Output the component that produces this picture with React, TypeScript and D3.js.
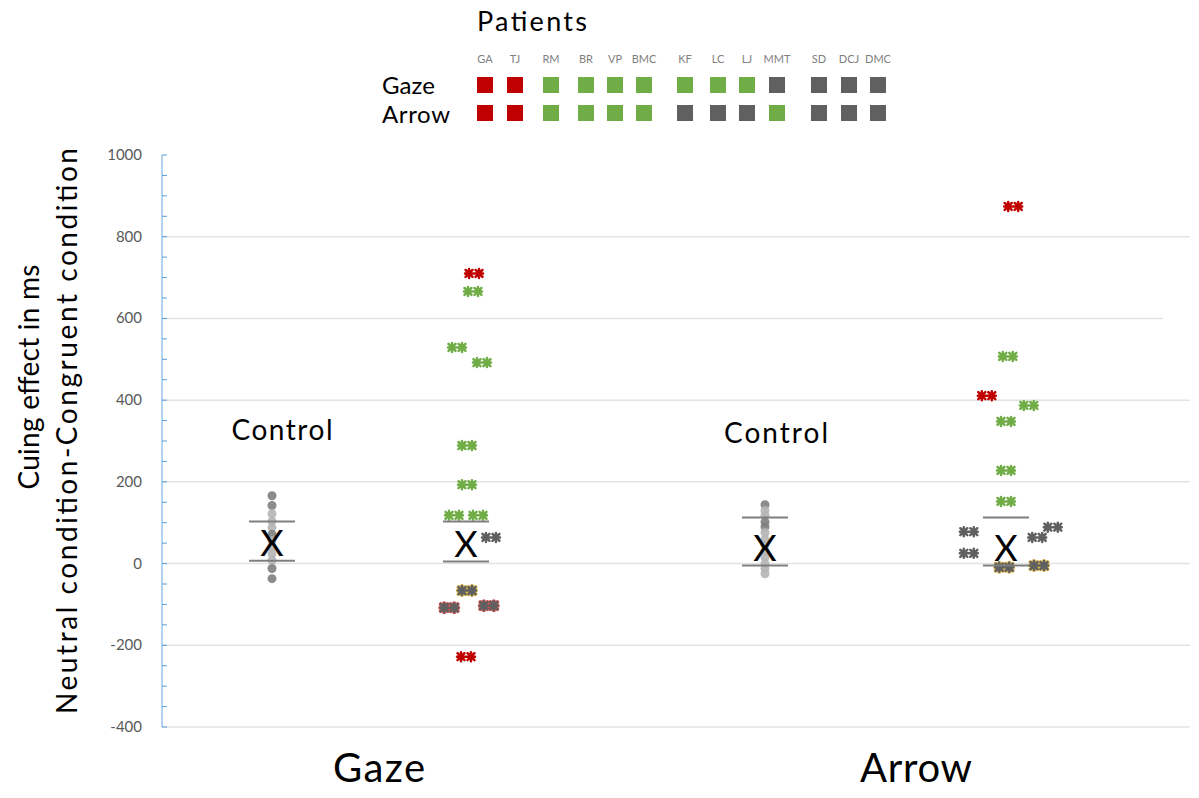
import React from "react";
import * as d3 from "d3";

// Legend: patients and whether each showed a cuing effect per condition
const patients = ["GA", "TJ", "RM", "BR", "VP", "BMC", "KF", "LC", "LJ", "MMT", "SD", "DCJ", "DMC"];
const gazeStatus = ["R", "R", "G", "G", "G", "G", "G", "G", "G", "K", "K", "K", "K"];
const arrowStatus = ["R", "R", "G", "G", "G", "G", "K", "K", "K", "G", "K", "K", "K"];

// Y axis
const yTicks = [1000, 800, 600, 400, 200, 0, -200, -400];

// Groups on the x axis
const groups = ["gazeControl", "gazePatients", "arrowControl", "arrowPatients"];
const conditions = ["Gaze", "Arrow"];

// Controls (ms)
const gazeControlValues = [166, 142, 122, 104, 88, 72, 56, 40, 24, 8, -12, -37];
const gazeControlShade = ["D", "D", "L", "L", "L", "D", "L", "L", "L", "L", "D", "D"];
const arrowControlValues = [144, 130, 118, 102, 90, 76, 60, 45, 30, 15, 0, -12, -25];
const arrowControlShade = ["D", "L", "L", "D", "D", "L", "L", "L", "L", "L", "L", "L", "L"];

// Patients (ms), marker colour and horizontal lane (jitter)
const gazePatientValues = [710, 666, 529, 492, 289, 193, 118, 118, 64, -66, -108, -103, -228];
const gazePatientColor = ["R", "G", "G", "G", "G", "G", "G", "G", "K", "Ky", "Kr", "Kr", "R"];
const gazePatientLane = [0.67, 0.58, -0.75, 1.33, 0.08, 0.08, -1, 1, 2.08, 0.08, -1.4, 1.9, 0];

const arrowPatientValues = [874, 507, 411, 387, 348, 228, 152, 78, 25, 64, 89, -9, -5];
const arrowPatientColor = ["R", "G", "R", "G", "G", "G", "G", "K", "K", "K", "K", "Ky", "Ky"];
const arrowPatientLane = [0.6, 0.15, -1.6, 1.9, 0, 0, 0, -3.1, -3.1, 2.6, 3.9, -0.15, 2.75];

// Mean and +/- SE per group
const groupMeans = [51, 47, 39, 39];
const groupSELow = [7, 5, -5, -5];
const groupSEHigh = [103, 103, 113, 113];

const colorMap: Record<string, string> = { R: "#c00000", G: "#70ad47", K: "#606060" };
const outlineMap: Record<string, string> = { Ky: "#d9b44a", Kr: "#d05050" };

const W = 1199;
const H = 798;
const FONT = "Lato, 'Open Sans', sans-serif";

// two asterisks joined by a bar, like the spreadsheet star marker
const starPath = (() => {
  let p = "M-9,0H9";
  [-5, 5].forEach(c => {
    p += `M${c - 3.5},-3.5L${c + 3.5},3.5M${c - 3.5},3.5L${c + 3.5},-3.5M${c},-4.5V4.5`;
  });
  return p;
})();

const Star: React.FC<{ x: number; y: number; code: string }> = ({ x, y, code }) => {
  const main = colorMap[code[0]];
  const outline = outlineMap[code];
  return (
    <g transform={`translate(${x},${y})`}>
      {outline && <path d={starPath} stroke={outline} strokeWidth={4} strokeLinecap="round" fill="none" />}
      <path d={starPath} stroke={main} strokeWidth={2.5} strokeLinecap="round" fill="none" />
    </g>
  );
};

export default function App() {
  const y = d3.scaleLinear().domain([-400, 1000]).range([727, 155]);
  const xGroup = d3.scaleOrdinal<string, number>().domain(groups).range([272, 466, 765, 1006]);
  const xCond = d3.scaleOrdinal<string, number>().domain(conditions).range([379, 916]);
  const lane = d3.scaleLinear().domain([0, 1]).range([0, 12]);
  const xLegend = d3.scaleOrdinal<string, number>()
    .domain(patients)
    .range([485, 515, 551, 586, 615, 644, 685, 718, 747, 777, 819, 849, 878]);

  const axisX = 162;
  const minorTicks = d3.range(-400, 1001, 50);

  const controlDot = (vals: number[], shade: string[], g: string) =>
    vals.map((v, i) => (
      <circle key={`${g}-${i}`} cx={xGroup(g)} cy={y(v)} r={4.5}
        fill={shade[i] === "D" ? "#7f7f7f" : "#b5b5b5"} opacity={0.9} />
    ));

  return (
    <svg width={W} height={H} style={{ position: "absolute", left: 0, top: 0, background: "#fff" }}>
      {/* Legend */}
      <text x={477} y={31} fontFamily={FONT} fontSize={27} textLength={110} fill="#000">Patients</text>
      <text x={382} y={94} fontFamily={FONT} fontSize={24} textLength={53} fill="#000">Gaze</text>
      <text x={382} y={123} fontFamily={FONT} fontSize={24} textLength={68} fill="#000">Arrow</text>
      {patients.map((p, i) => (
        <g key={p}>
          <text x={xLegend(p)} y={63} textAnchor="middle" fontFamily={FONT} fontSize={11} fill="#808080">{p}</text>
          <rect x={xLegend(p) - 8} y={77} width={16} height={16} fill={colorMap[gazeStatus[i]]} />
          <rect x={xLegend(p) - 8} y={105} width={16} height={16} fill={colorMap[arrowStatus[i]]} />
        </g>
      ))}

      {/* Gridlines */}
      {yTicks.filter(t => t !== 1000).map(t => (
        <line key={t} x1={axisX} x2={t === 600 ? 1163 : 1190} y1={y(t)} y2={y(t)} stroke="#e3e3e3" strokeWidth={1.5} />
      ))}

      {/* Y axis */}
      <line x1={axisX} x2={axisX} y1={y(1000)} y2={y(-400)} stroke="#9dc3e6" strokeWidth={1.5} />
      {minorTicks.map(t => (
        <line key={t} x1={axisX} x2={axisX + 5} y1={y(t)} y2={y(t)} stroke="#5b9bd5" strokeWidth={1} />
      ))}
      {yTicks.map(t => (
        <text key={t} x={142} y={y(t) + 5} textAnchor="end" fontFamily={FONT} fontSize={15} fill="#595959">{t}</text>
      ))}

      {/* Axis title */}
      <text transform={`translate(39,${377}) rotate(-90)`} textAnchor="middle" fontFamily={FONT} fontSize={28}
        textLength={225} fill="#000">
        Cuing effect in ms
      </text>
      <text transform={`translate(77,${431}) rotate(-90)`} textAnchor="middle" fontFamily={FONT} fontSize={28}
        textLength={566} fill="#000">
        Neutral condition-Congruent condition
      </text>

      {/* Controls */}
      {controlDot(gazeControlValues, gazeControlShade, "gazeControl")}
      {controlDot(arrowControlValues, arrowControlShade, "arrowControl")}

      {/* Patients */}
      {gazePatientValues.map((v, i) => (
        <Star key={`gp-${i}`} x={xGroup("gazePatients") + lane(gazePatientLane[i])} y={y(v)} code={gazePatientColor[i]} />
      ))}
      {arrowPatientValues.map((v, i) => (
        <Star key={`ap-${i}`} x={xGroup("arrowPatients") + lane(arrowPatientLane[i])} y={y(v)} code={arrowPatientColor[i]} />
      ))}

      {/* Mean and SE */}
      {groups.map((g, i) => (
        <g key={g}>
          <line x1={xGroup(g) - 23} x2={xGroup(g) + 23} y1={y(groupSEHigh[i])} y2={y(groupSEHigh[i])} stroke="#7f7f7f" strokeWidth={2} />
          <line x1={xGroup(g) - 23} x2={xGroup(g) + 23} y1={y(groupSELow[i])} y2={y(groupSELow[i])} stroke="#7f7f7f" strokeWidth={2} />
          <text x={xGroup(g)} y={y(groupMeans[i]) + 13} textAnchor="middle" fontFamily={FONT} fontSize={36} fill="#000">X</text>
        </g>
      ))}

      {/* Control labels */}
      <text x={282} y={440} textAnchor="middle" fontFamily={FONT} fontSize={28} textLength={101} fill="#000">Control</text>
      <text x={776} y={443} textAnchor="middle" fontFamily={FONT} fontSize={28} textLength={104} fill="#000">Control</text>

      {/* Condition labels */}
      {conditions.map(c => (
        <text key={c} x={xCond(c)} y={782} textAnchor="middle" fontFamily={FONT} fontSize={40}
          textLength={c === "Gaze" ? 92 : 112} fill="#000">{c}</text>
      ))}
    </svg>
  );
}
